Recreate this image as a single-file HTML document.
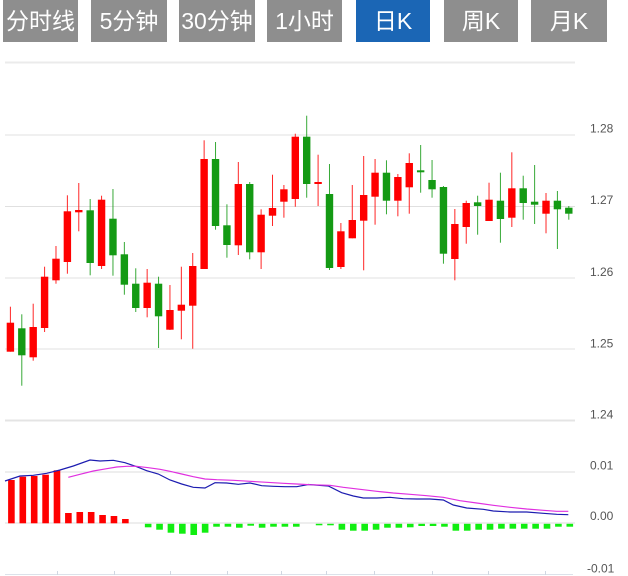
<!DOCTYPE html>
<html><head><meta charset="utf-8">
<style>
html,body{margin:0;padding:0;background:#fff;width:628px;height:576px;overflow:hidden;}
.b{position:absolute;top:0;height:42px;line-height:42px;text-align:center;color:#fff;background:#8e8e8e;font-family:"Liberation Sans","Noto Sans CJK SC",sans-serif;font-size:23px;}
.b.on{background:#1b66b5;}
svg{position:absolute;left:0;top:0;}
</style></head><body>
<div class="b" style="left:3px;width:75px;">分时线</div>
<div class="b" style="left:91px;width:76px;">5分钟</div>
<div class="b" style="left:179px;width:76px;">30分钟</div>
<div class="b" style="left:267px;width:75px;">1小时</div>
<div class="b on" style="left:356px;width:74px;">日K</div>
<div class="b" style="left:444px;width:74px;">周K</div>
<div class="b" style="left:531px;width:76px;">月K</div>
<svg id="s" width="628" height="576" xmlns="http://www.w3.org/2000/svg">
<g font-family="Liberation Sans, sans-serif" font-size="12" fill="#555">
<text x="590" y="132.5">1.28</text>
<text x="590" y="204">1.27</text>
<text x="590" y="276">1.26</text>
<text x="590" y="347.5">1.25</text>
<text x="590" y="418.5">1.24</text>
<text x="590" y="469.5">0.01</text>
<text x="590" y="520">0.00</text>
<text x="587" y="572.5">-0.01</text>
</g>
<g id="grid"></g>
<g id="cand"></g>
<g id="macd"></g>
</svg>
<script>
var NS="http://www.w3.org/2000/svg";
function el(p,t,a){var e=document.createElementNS(NS,t);for(var k in a)e.setAttribute(k,a[k]);p.appendChild(e);return e;}
var g=document.getElementById('grid');
el(g,'rect',{x:5,y:61.5,width:570,height:2,fill:'#ebebeb'});
[135,206.5,278,349].forEach(function(y){el(g,'rect',{x:5,y:y-0.5,width:570,height:1,fill:'#e0e0e0'});});
el(g,'rect',{x:5,y:419.5,width:570,height:2,fill:'#e4e4e4'});
el(g,'rect',{x:5,y:471.5,width:570,height:1,fill:'#dedede'});
el(g,'rect',{x:5,y:522.5,width:570,height:1,fill:'#dedede'});
el(g,'rect',{x:5,y:574,width:568,height:1,fill:'#dce2ea'});
[57,114,170,227,281,326,374,432,488,545].forEach(function(x){el(g,'rect',{x:x,y:571,width:1,height:4,fill:'#cfd7e2'});});
var C=[
['R',322.7,351.7,306.7,351.7],['G',328.3,355.3,314.3,385.7],['R',327,357.3,303.7,360.7],['R',276.7,328,266.7,332],
['R',258.7,280.3,246,283.7],['R',211.3,262,195.3,273.7],['R',210,212.3,183,231.3],['G',210.3,263,199,275.3],
['R',199.7,266,195.7,269],['G',218.7,255.3,189,275.7],['G',254.3,284.7,242,294.7],['G',283.7,308,268.3,312],
['R',282.7,308,269,317.3],['G',283.7,316.3,276.7,348],['R',310,329.7,285,330],['R',304.7,310.7,266.7,339.3],
['R',266,305.7,253,348.7],['R',159,269,140.3,269],['G',159,226,142,229.7],['G',225.3,245,204.3,257.7],
['R',184,245.3,162,255],['G',184,252.3,182,259.3],['R',214.7,252.3,209.3,269],['R',208,215.7,174.7,226],
['R',189.3,201.7,185,217.7],['R',136.7,199,133.7,206.7],['G',136.7,184,115.7,197.7],['R',182,183.7,154.7,206],
['G',194,268,164,270],['R',231.3,267,223,269],['R',220,238.3,185,238.3],['R',195,220.7,156,270.3],
['R',172.7,196.7,159,224.7],['G',172.7,200.7,160.3,214.3],['R',177,200.7,174,216.3],['R',163,187.3,153.3,213.7],
['G',170.3,172.3,145,192.7],['G',180,189.3,160,197.7],['G',187,253.7,186,263.7],['R',224,259,209,280.3],
['R',203,227,200.7,243.7],['G',202.3,206,195.7,234.7],['R',199.7,221,182.7,221],['G',200.7,219,172.7,242.7],
['R',188.3,217.7,152.3,227],['G',188.3,203,175.7,219.7],['G',201.7,204.7,165,224],['R',200.7,213.7,193,233.3],
['G',200.7,209.3,191,249],['G',207.7,213.7,206,219.7]];
var cg=document.getElementById('cand');
C.forEach(function(d,i){
 var c=10.4+11.396*i, col=d[0]=='R'?'#ff0000':'#149a14';
 el(cg,'rect',{x:c-0.5,y:d[3],width:1,height:Math.max(1,d[4]-d[3]),fill:col,opacity:0.85});
 var h=Math.max(2,d[2]-d[1]);
 el(cg,'rect',{x:c-3.7,y:d[1],width:7.4,height:h,fill:col});
});
var mg=document.getElementById('macd');
var R={1:480,2:476.7,3:476,4:474.7,5:470.3,6:513,7:512,8:512,9:515,10:516,11:519};
var G={13:527.3,14:529.7,15:532.7,16:533.7,17:535,18:532.7,19:526.7,20:526.7,21:527.7,22:525.7,23:527.7,24:526.7,25:526.7,26:526.7,28:525.3,29:525.3,30:529.7,31:530.7,32:530.7,33:529.7,34:527.7,35:527.7,36:527.3,37:526,38:526,39:526.7,40:530.7,41:530.7,42:529.7,43:529.7,44:528.7,45:528.7,46:528.7,47:528.7,48:528.7,49:526.7,50:526.7};
for(var k in R){var c=10.4+11.396*(k-1)+1;el(mg,'rect',{x:c-3.3,y:R[k],width:6.6,height:523.3-R[k],fill:'#ff0000'});}
for(var k in G){var c=10.4+11.396*(k-1)+1;el(mg,'rect',{x:c-3.3,y:523.8,width:6.6,height:G[k]-523.8,fill:'#11ee11'});}
var blue=[[5,481],[20,476],[33.3,475.3],[46.7,473.3],[60,470],[73.3,466],[90,460],[100,461],[113.3,460.3],[125,462.7],[136.7,466.7],[146.7,470.7],[158.3,474],[170,480],[181.7,484],[193.3,487.3],[205,488],[215,482.7],[226.7,483],[238.3,484.3],[250,483],[261.7,485.7],[273.3,486.3],[285,486.7],[296.7,486.7],[308.3,484.5],[328.3,486],[341.7,492.7],[353.3,496],[363.3,498],[376.7,498],[390,497.3],[403.3,498.7],[416.7,499],[430,499],[443.3,500],[453.3,505],[466.7,508],[483.3,509.3],[493.3,511],[510,512],[526.7,512],[543.3,513.3],[556.7,514.3],[568.3,514.7]];
var mag=[[68.3,477.3],[80,474.3],[93.3,471],[106.7,468.7],[116.7,467],[126.7,466.3],[136.7,466.3],[148.3,467.7],[160,469.3],[170,471.3],[181.7,474],[193.3,476.7],[205,479],[216.7,479.7],[233.3,480.3],[250,481.3],[266.7,482.3],[283.3,483.3],[296.7,484],[310,484.7],[330,485.3],[343.3,487.3],[360,489.3],[376.7,491.3],[393.3,493],[410,494.3],[426.7,495.7],[443.3,497.3],[460,500.7],[476.7,503],[493.3,505.3],[510,507.3],[526.7,509],[543.3,510.3],[556.7,511.3],[568.3,511.3]];
function pl(p,col){el(mg,'polyline',{points:p.map(function(q){return q.join(',');}).join(' '),fill:'none',stroke:col,'stroke-width':1.2});}
pl(blue,'#1c1cb0');pl(mag,'#e030e0');
</script>
</body></html>
